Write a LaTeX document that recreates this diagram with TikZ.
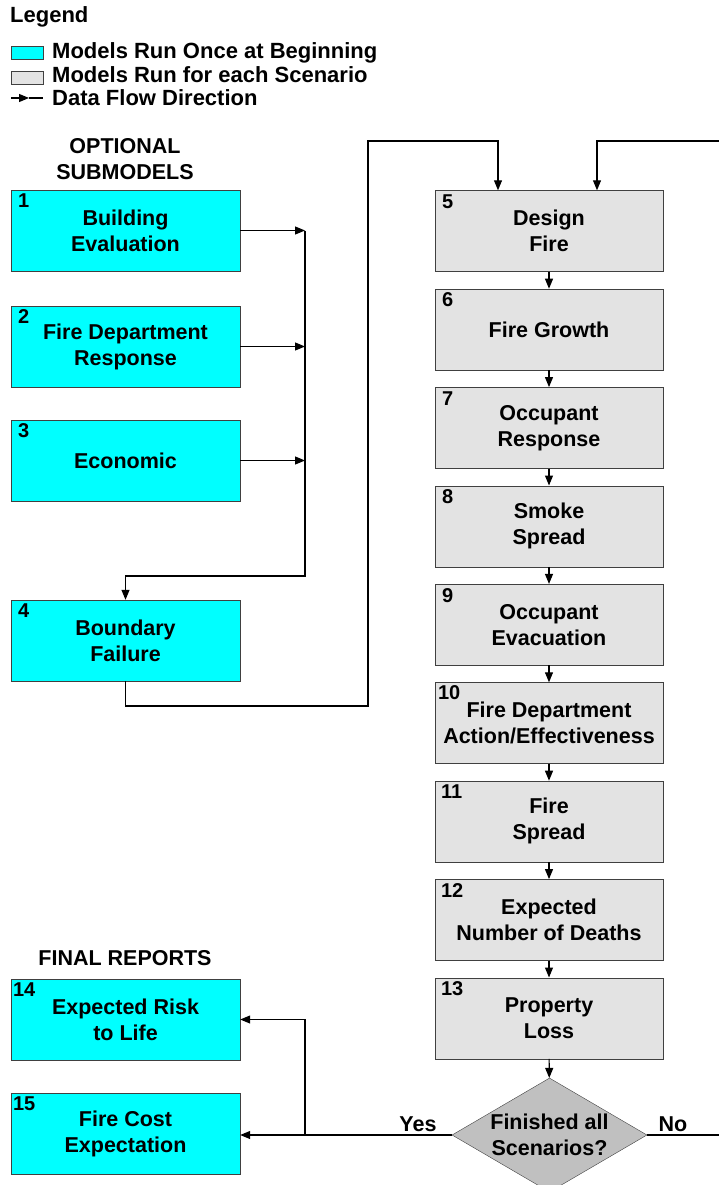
\documentclass[tikz,border=0pt]{standalone}
\usepackage{fontspec}
\setmainfont{Liberation Sans}
\usetikzlibrary{arrows.meta,shapes.geometric}
\definecolor{onceblue}{RGB}{0,255,255}
\definecolor{scengrey}{RGB}{227,227,227}
\definecolor{decgrey}{RGB}{192,192,192}
\definecolor{edgegrey}{RGB}{64,64,64}

\begin{document}
\begin{tikzpicture}[x=1pt,y=-1pt,
    txt/.style={font=\fontsize{21.5}{26}\selectfont\bfseries,align=center,inner sep=0pt},
    keytxt/.style={font=\fontsize{22}{26}\selectfont\bfseries,anchor=base west,inner sep=0pt},
    once/.style={draw=edgegrey,fill=onceblue,minimum width=229pt,minimum height=81pt,txt},
    scen/.style={draw=edgegrey,fill=scengrey,minimum width=228pt,minimum height=81pt,txt},
    num/.style={font=\fontsize{20}{20}\selectfont\bfseries,anchor=north west,inner sep=0pt},
    flow/.style={line width=1.1pt,-{Triangle[length=10pt,width=8pt]}}]
    \useasboundingbox (0,0) rectangle (718,1185);

    \node[keytxt] (legend) at (10,23) {Legend};
    \node[draw=edgegrey,fill=onceblue,minimum width=32pt,minimum height=13pt,inner sep=0pt] (keyonce) at (27,52.5) {};
    \node[keytxt] (keyoncetxt) at (52,59) {Models Run Once at Beginning};
    \node[draw=edgegrey,fill=scengrey,minimum width=32pt,minimum height=13pt,inner sep=0pt] (keyscen) at (27,77.5) {};
    \node[keytxt] (keyscentxt) at (52,83) {Models Run for each Scenario};
    \coordinate (keyA) at (11,98);
    \coordinate (keyB) at (29,98);
    \coordinate (keyC) at (43,98);
    \draw[flow] (keyA) -- (keyB);
    \draw[line width=1.1pt] (keyB) -- (keyC);
    \node[keytxt] (keyflowtxt) at (52,106) {Data Flow Direction};

    \node[txt] (optional) at (125,159.5) {OPTIONAL\\SUBMODELS};
    \node[txt] (final) at (125,958) {FINAL REPORTS};

    \node[once] (b1) at (125.5,230.5) {Building\\Evaluation};
    \node[once] (b2) at (125.5,346.5) {Fire Department\\Response};
    \node[once] (b3) at (125.5,460.5) {Economic};
    \node[once] (b4) at (125.5,640.5) {Boundary\\Failure};
    \node[once] (b14) at (125.5,1019.5) {Expected Risk\\to Life};
    \node[once] (b15) at (125.5,1133.5) {Fire Cost\\Expectation};

    \node[scen] (b5) at (549,231) {Design\\Fire};
    \node[scen] (b6) at (549,329.4) {Fire Growth};
    \node[scen] (b7) at (549,427.8) {Occupant\\Response};
    \node[scen] (b8) at (549,526.2) {Smoke\\Spread};
    \node[scen] (b9) at (549,624.6) {Occupant\\Evacuation};
    \node[scen] (b10) at (549,723) {Fire Department\\Action/Effectiveness};
    \node[scen] (b11) at (549,821.4) {Fire\\Spread};
    \node[scen] (b12) at (549,919.8) {Expected\\Number of Deaths};
    \node[scen] (b13) at (549,1018.2) {Property\\Loss};

    \node[num] (n1) at ([xshift=7pt,yshift=-4pt]b1.north west) {1};
    \node[num] (n2) at ([xshift=7pt,yshift=-4pt]b2.north west) {2};
    \node[num] (n3) at ([xshift=7pt,yshift=-4pt]b3.north west) {3};
    \node[num] (n4) at ([xshift=7pt,yshift=-4pt]b4.north west) {4};
    \node[num] (n14) at ([xshift=2pt,yshift=-4pt]b14.north west) {14};
    \node[num] (n15) at ([xshift=2pt,yshift=-4pt]b15.north west) {15};
    \node[num] (n5) at ([xshift=7pt,yshift=-4pt]b5.north west) {5};
    \node[num] (n6) at ([xshift=7pt,yshift=-4pt]b6.north west) {6};
    \node[num] (n7) at ([xshift=7pt,yshift=-4pt]b7.north west) {7};
    \node[num] (n8) at ([xshift=7pt,yshift=-4pt]b8.north west) {8};
    \node[num] (n9) at ([xshift=7pt,yshift=-4pt]b9.north west) {9};
    \node[num] (n10) at ([xshift=3pt,yshift=-3pt]b10.north west) {10};
    \node[num] (n11) at ([xshift=6pt,yshift=-4pt]b11.north west) {11};
    \node[num] (n12) at ([xshift=6pt,yshift=-4pt]b12.north west) {12};
    \node[num] (n13) at ([xshift=6pt,yshift=-4pt]b13.north west) {13};

    \node[diamond,draw=edgegrey,fill=decgrey,minimum width=195pt,minimum height=114pt,inner sep=0pt] (dec) at (549.5,1135) {};
    \node[txt] (dectxt) at (dec.center) {Finished all\\Scenarios?};
    \node[txt] (yes) at (418,1124) {Yes};
    \node[txt] (no) at (673,1124) {No};

    \coordinate (m1) at (305,230.5);
    \coordinate (m2) at (305,346.5);
    \coordinate (m3) at (305,460.5);
    \coordinate (m4) at (305,576);
    \coordinate (c1) at (368,706);
    \coordinate (c2) at (368,141);
    \coordinate (c3) at (722,1135);
    \coordinate (c4) at (722,141);
    \coordinate (yesjoin) at (305,1135);

    \draw[flow] (b1.east) -- (m1);
    \draw[flow] (b2.east) -- (m2);
    \draw[flow] (b3.east) -- (m3);
    \draw[flow] (m1) -- (m4) -| (b4.north);
    \draw[flow] (b4.south) |- (c1) -- (c2) -| ([xshift=-51pt]b5.north);
    \draw[flow] (dec.east) -- (c3) -- (c4) -| ([xshift=48pt]b5.north);

    \draw[flow] (b5) -- (b6);
    \draw[flow] (b6) -- (b7);
    \draw[flow] (b7) -- (b8);
    \draw[flow] (b8) -- (b9);
    \draw[flow] (b9) -- (b10);
    \draw[flow] (b10) -- (b11);
    \draw[flow] (b11) -- (b12);
    \draw[flow] (b12) -- (b13);
    \draw[flow] (b13) -- (dec);

    \draw[flow] (dec.west) -- (dec.west -| b15.east);
    \draw[flow] (yesjoin) |- (b14.east);
\end{tikzpicture}
\end{document}
